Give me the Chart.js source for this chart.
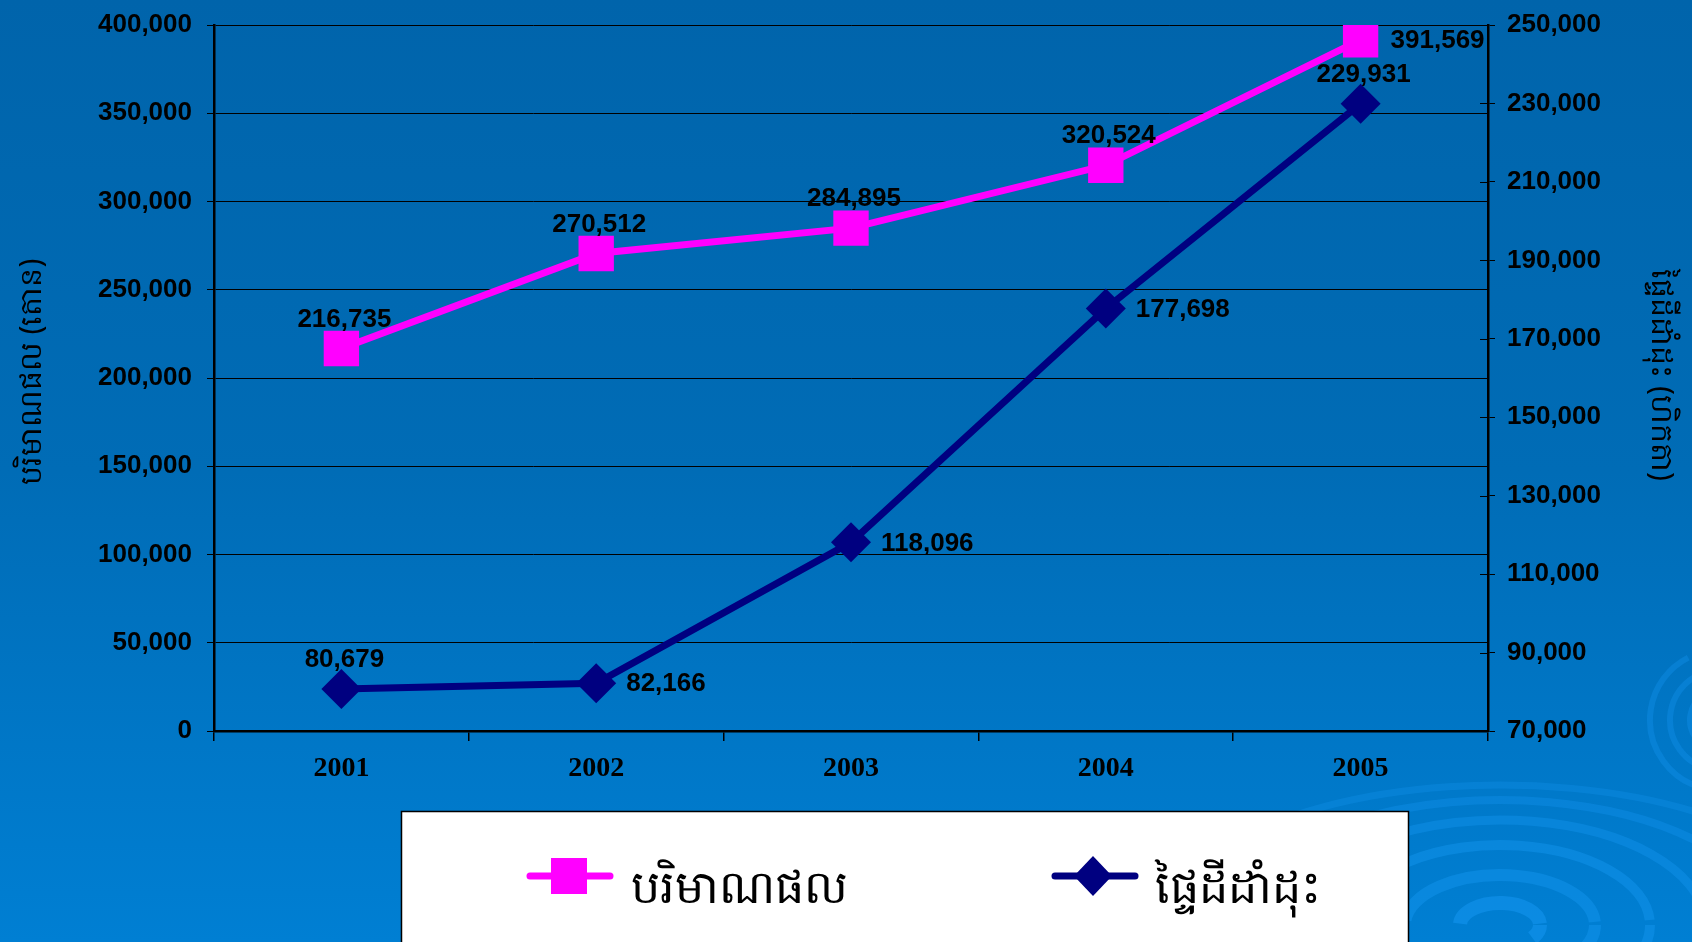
<!DOCTYPE html>
<html><head><meta charset="utf-8">
<script src="https://cdn.jsdelivr.net/npm/chart.js@4/dist/chart.umd.min.js"></script>
<style>
html,body{margin:0;padding:0;width:1692px;height:942px;overflow:hidden;background:linear-gradient(180deg,#0064ab 0%,#006cb6 50%,#007fd3 100%);}
#wrap{position:relative;width:1692px;height:942px;}
</style></head><body><div id="wrap"><canvas id="c" width="1692" height="942"></canvas></div>
<script>
// ---- data ----
const years = ['2001','2002','2003','2004','2005'];
const productionTons = [216735, 270512, 284895, 320524, 391569];
const areaHectares = [80679, 82166, 118096, 177698, 229931];
const leftAxisMin = 0, leftAxisMax = 400000, leftAxisStep = 50000;
const rightAxisMin = 70000, rightAxisMax = 250000, rightAxisStep = 20000;
const productionName = 'បរិមាណផល';
const areaName = 'ផ្ទៃដីដាំដុះ';
const leftTitle = 'បរិមាណផល (តោន)';
const rightTitle = 'ផ្ទៃដីដាំដុះ (ហិកតា)';

// ---- style ----
const MAGENTA = '#ff00ff', NAVY = '#000080';
const productionLabelPlace = ['top','top','top','top','right'];
const areaLabelPlace = ['top','right','right','right','top'];
const fmt = v => Number(v).toLocaleString('en-US');
const SANS = '"Liberation Sans", Arial, sans-serif';
const SERIF = '"Liberation Serif", "Times New Roman", serif';

const decoPlugin = {
  id: 'deco',
  beforeDraw(chart) {
    const ctx = chart.ctx;
    ctx.save();
    const cx = 1500, cy = 925;
    const rings = [[40,22,14,0.55],[95,50,12,0.45],[150,80,10,0.45],[205,105,9,0.4],[265,125,8,0.35],[330,140,7,0.3]];
    rings.forEach(([rx, ry, w, a], i) => {
      ctx.strokeStyle = 'rgba(20,150,240,' + a + ')';
      ctx.lineWidth = w;
      ctx.beginPath();
      ctx.ellipse(cx, cy, rx, ry, 0, Math.PI * (1.02 + i * 0.01), Math.PI * 1.98);
      ctx.stroke();
      ctx.beginPath();
      ctx.ellipse(cx, cy, rx, ry, 0, 0, Math.PI * 0.2 + i * 0.02);
      ctx.stroke();
    });
    ctx.strokeStyle = 'rgba(20,150,240,0.35)';
    ctx.lineWidth = 6;
    [30, 50, 70].forEach(r => {
      ctx.beginPath();
      ctx.arc(1720, 720, r, Math.PI * 0.55, Math.PI * 1.35);
      ctx.stroke();
    });
    ctx.restore();
  }
};

const labelPlugin = {
  id: 'vlabels',
  afterDatasetsDraw(chart) {
    const ctx = chart.ctx;
    ctx.save();
    ctx.font = 'bold 26px ' + SANS;
    ctx.fillStyle = '#000';
    const places = [productionLabelPlace, areaLabelPlace];
    chart.data.datasets.forEach((ds, di) => {
      const meta = chart.getDatasetMeta(di);
      meta.data.forEach((pt, i) => {
        const txt = fmt(ds.data[i]);
        if (places[di][i] === 'top') {
          ctx.textAlign = 'center'; ctx.textBaseline = 'middle';
          ctx.fillText(txt, pt.x + 3, pt.y - 29);
        } else {
          ctx.textAlign = 'left'; ctx.textBaseline = 'middle';
          ctx.fillText(txt, pt.x + 30, pt.y + 1);
        }
      });
    });
    ctx.restore();
  }
};

const extrasPlugin = {
  id: 'extras',
  afterDraw(chart) {
    const ctx = chart.ctx;
    const ca = chart.chartArea;
    ctx.save();
    const y2 = chart.scales.y2;
    ctx.strokeStyle = '#000'; ctx.lineWidth = 1;
    y2.ticks.forEach((t, i) => {
      const yy = Math.round(y2.getPixelForTick(i)) + 0.5;
      ctx.beginPath(); ctx.moveTo(ca.right - 8, yy); ctx.lineTo(ca.right, yy); ctx.stroke();
    });
    ctx.fillStyle = '#000';
    ctx.font = '30px "Noto Sans", "DejaVu Sans", sans-serif';
    ctx.textAlign = 'center'; ctx.textBaseline = 'middle';
    ctx.save(); ctx.translate(32, 372); ctx.rotate(-Math.PI / 2); ctx.fillText(leftTitle, 0, 0); ctx.restore();
    ctx.save(); ctx.translate(1661, 375); ctx.rotate(Math.PI / 2); ctx.fillText(rightTitle, 0, 0); ctx.restore();
    // legend box
    ctx.fillStyle = '#fff';
    ctx.fillRect(401, 811, 1007, 140);
    ctx.strokeStyle = '#000'; ctx.lineWidth = 1.5;
    ctx.strokeRect(401.5, 811.5, 1007, 140);
    const ly = 876;
    ctx.lineCap = 'round';
    ctx.lineWidth = 7;
    ctx.strokeStyle = MAGENTA;
    ctx.beginPath(); ctx.moveTo(530, ly); ctx.lineTo(610, ly); ctx.stroke();
    ctx.fillStyle = MAGENTA;
    ctx.fillRect(569 - 18, ly - 18, 36, 36);
    ctx.strokeStyle = NAVY; ctx.fillStyle = NAVY;
    ctx.beginPath(); ctx.moveTo(1055, ly); ctx.lineTo(1135, ly); ctx.stroke();
    ctx.beginPath();
    ctx.moveTo(1093, ly - 20); ctx.lineTo(1112, ly); ctx.lineTo(1093, ly + 20); ctx.lineTo(1074, ly);
    ctx.closePath(); ctx.fill();
    ctx.fillStyle = '#000';
    ctx.font = '46px "Noto Sans", "DejaVu Sans", sans-serif';
    ctx.textAlign = 'left'; ctx.textBaseline = 'middle';
    ctx.fillText(productionName, 631, 890);
    ctx.fillText(areaName, 1155, 890);
    ctx.restore();
  }
};

function fitY(w) {
  return function (s) { s.width = w; s.paddingTop = 0; s.paddingBottom = 0; };
}

new Chart(document.getElementById('c'), {
  type: 'line',
  data: {
    labels: years,
    datasets: [
      {
        label: productionName, data: productionTons, yAxisID: 'y',
        borderColor: MAGENTA, backgroundColor: MAGENTA, borderWidth: 7,
        pointStyle: 'rect', pointRadius: 25, pointHoverRadius: 25,
        pointBackgroundColor: MAGENTA, pointBorderWidth: 0, tension: 0
      },
      {
        label: areaName, data: areaHectares, yAxisID: 'y2',
        borderColor: NAVY, backgroundColor: NAVY, borderWidth: 7,
        pointStyle: 'rectRot', pointRadius: 20, pointHoverRadius: 20,
        pointBackgroundColor: NAVY, pointBorderWidth: 0, tension: 0
      }
    ]
  },
  options: {
    responsive: false, animation: false, devicePixelRatio: 1,
    layout: { padding: { top: 25, left: 0, right: 0, bottom: 0 } },
    plugins: { legend: { display: false }, tooltip: { enabled: false } },
    scales: {
      x: {
        offset: true,
        grid: { offset: true, drawOnChartArea: false, drawTicks: true, tickLength: 10, color: '#000', lineWidth: 1.5 },
        border: { color: '#000', width: 2.5 },
        ticks: { color: '#000', padding: 11, font: { family: SERIF, weight: 'bold', size: 28 } },
        afterFit(s) { s.height = 211; s.paddingLeft = 0; s.paddingRight = 0; }
      },
      y: {
        position: 'left', min: leftAxisMin, max: leftAxisMax,
        grid: { color: '#000', lineWidth: 1, tickLength: 7 },
        border: { color: '#000', width: 2.5 },
        ticks: { stepSize: leftAxisStep, color: '#000', padding: 15, callback: v => fmt(v),
                 font: { family: SANS, weight: 'bold', size: 26 } },
        afterFit: fitY(214)
      },
      y2: {
        position: 'right', min: rightAxisMin, max: rightAxisMax,
        grid: { drawOnChartArea: false, color: '#000', lineWidth: 1, tickLength: 7 },
        border: { color: '#000', width: 2.5 },
        ticks: { stepSize: rightAxisStep, color: '#000', padding: 12, callback: v => fmt(v),
                 font: { family: SANS, weight: 'bold', size: 26 } },
        afterFit: fitY(204)
      }
    }
  },
  plugins: [decoPlugin, labelPlugin, extrasPlugin]
});
</script></body></html>
